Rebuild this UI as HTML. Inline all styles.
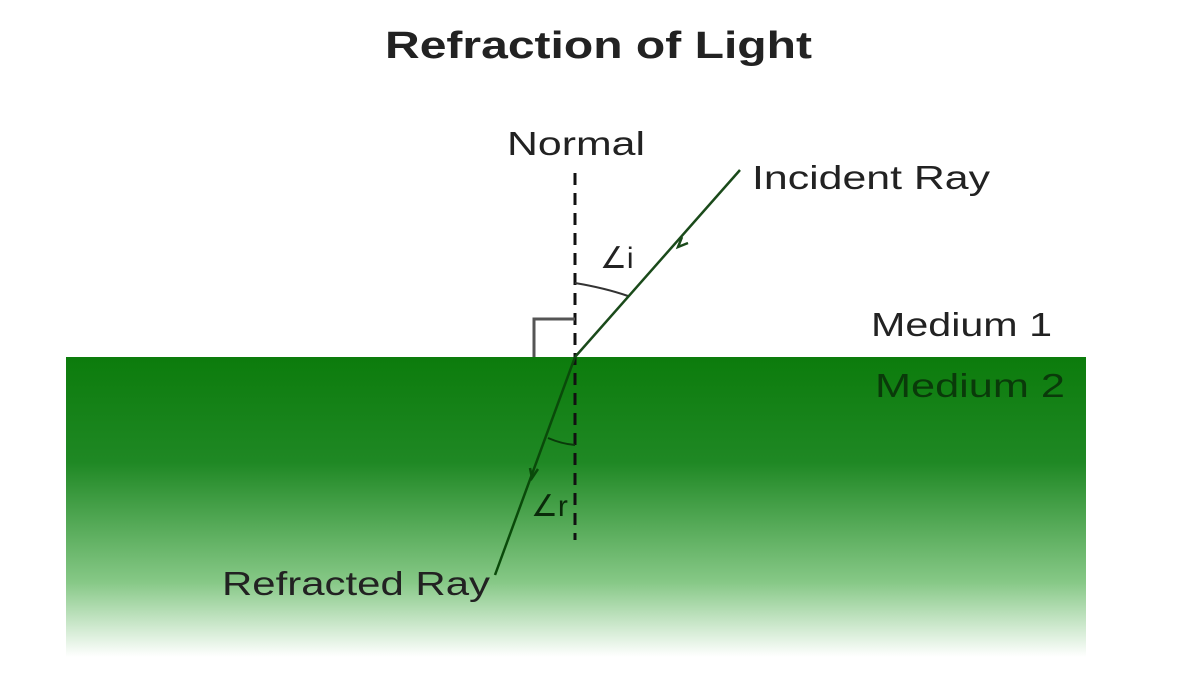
<!DOCTYPE html>
<html><head><style>body{margin:0;background:#fff}svg{display:block}</style></head><body>
<svg width="1200" height="674" viewBox="0 0 1200 674" font-family="Liberation Sans, sans-serif">
<defs><linearGradient id="g" x1="0" y1="0" x2="0" y2="1">
<stop offset="0" stop-color="#0c7c0c"/><stop offset="0.35" stop-color="#1f8824"/><stop offset="0.75" stop-color="#86c886"/><stop offset="1" stop-color="#ffffff"/></linearGradient></defs>
<rect x="66" y="357" width="1020" height="300" fill="url(#g)"/>
<text x="385" y="58" textLength="427" lengthAdjust="spacingAndGlyphs" font-size="38" font-weight="bold" fill="#222">Refraction of Light</text>
<text x="507" y="155" textLength="138" lengthAdjust="spacingAndGlyphs" font-size="33" fill="#222">Normal</text>
<text x="752" y="189" textLength="238" lengthAdjust="spacingAndGlyphs" font-size="33" fill="#222">Incident Ray</text>
<text x="871" y="336" textLength="181" lengthAdjust="spacingAndGlyphs" font-size="33" fill="#222">Medium 1</text>
<text x="875" y="397" textLength="190" lengthAdjust="spacingAndGlyphs" font-size="33" fill="#0a3a0a">Medium 2</text>
<text x="222" y="595" textLength="268" lengthAdjust="spacingAndGlyphs" font-size="33" fill="#222">Refracted Ray</text>
<text x="600" y="268" font-size="30" fill="#222">∠i</text>
<text x="531" y="516" font-size="30" fill="#0a2a0a">∠r</text>
<line x1="575" y1="173" x2="575" y2="540" stroke="#111" stroke-width="3" stroke-dasharray="12,8"/>
<polyline points="534,357 534,319 575,319" fill="none" stroke="#555" stroke-width="3"/>
<path d="M575,283 Q605,288 628,296" fill="none" stroke="#333" stroke-width="2"/>
<path d="M548,438 Q562,444 575,445" fill="none" stroke="#0a3a0a" stroke-width="2"/>
<line x1="740" y1="170" x2="575" y2="357" stroke="#1a4a1a" stroke-width="2.5"/>
<line x1="575" y1="357" x2="495" y2="575" stroke="#0a4a0a" stroke-width="2.5"/>
<path d="M682,237 l-4,10 l10,-4" fill="none" stroke="#1a4a1a" stroke-width="2.5"/>
<path d="M530,468 l2,10 l6,-9" fill="none" stroke="#0a4a0a" stroke-width="2.5"/>
</svg>
</body></html>
